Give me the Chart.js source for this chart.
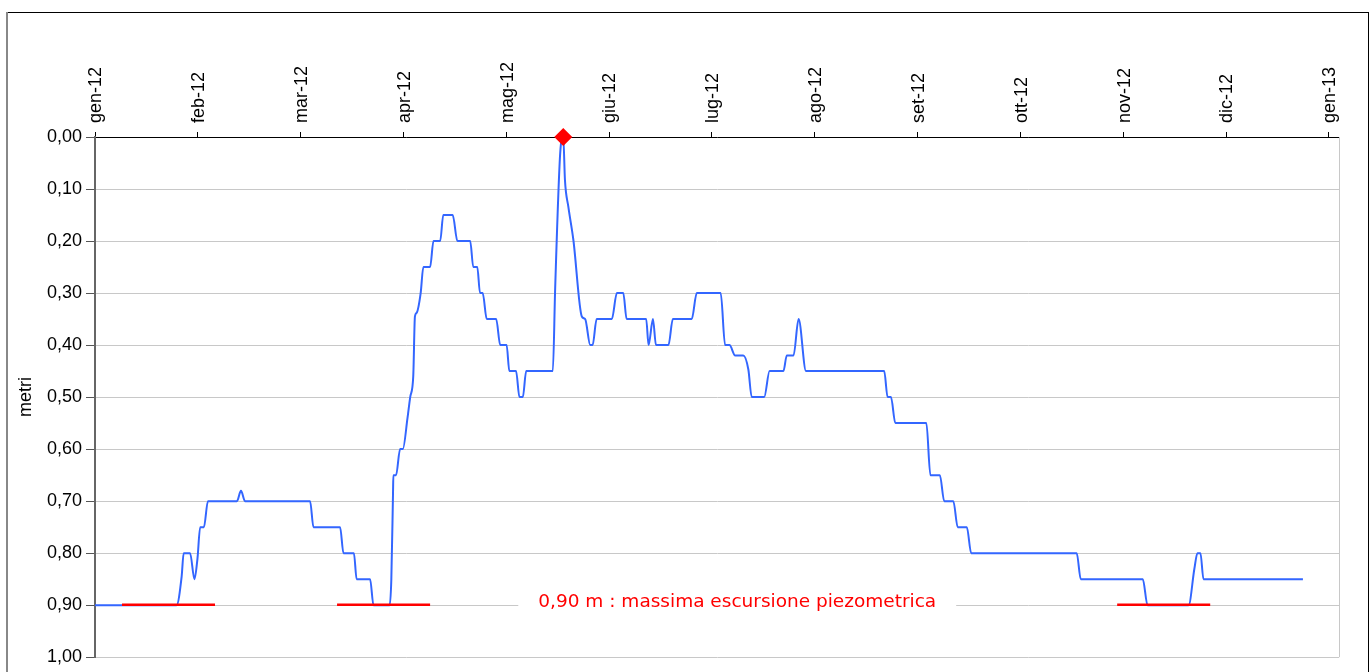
<!DOCTYPE html>
<html>
<head>
<meta charset="utf-8">
<script src="https://cdn.jsdelivr.net/npm/chart.js@4.4.0/dist/chart.umd.min.js"></script>
<style>
  body { margin: 0; background: #fff; }
  #wrap { width: 1372px; height: 672px; position: relative; }
</style>
</head>
<body>
<div id="wrap"><canvas id="levelChart"></canvas></div>
<script>
const monthLabels = ["gen-12", "feb-12", "mar-12", "apr-12", "mag-12", "giu-12", "lug-12",
  "ago-12", "set-12", "ott-12", "nov-12", "dic-12", "gen-13"];
const daysPerMonth = 30.5;

// giorni dal 1 gennaio 2012 / livello (metri)
const days = [0, 24.2, 25.7, 26.3, 28.2, 29.5, 30.4, 31.2, 32.3, 33.5, 42.1, 43.3, 44.5, 63.8,
  64.8, 72.7, 73.7, 76.8, 77.6, 81.6, 82.6, 87.4, 87.9, 88.4, 88.5, 89.3, 90.5, 91.3, 92.7,
  93.5, 94.4, 94.9, 95.4, 96.6, 97.4, 99.4, 100.4, 102.4, 103.3, 106.1, 107.5, 111.3, 112.2,
  113.4, 114.2, 115.0, 116.2, 119.0, 120.2, 122.1, 122.9, 124.9, 125.9, 126.9, 127.9, 135.8,
  136.5, 138.0, 138.9, 139.4, 140.4, 141.9, 144.4, 145.4, 146.9, 147.6, 148.8, 153.3, 154.8,
  156.7, 157.7, 163.5, 164.2, 165.5, 166.4, 170.1, 171.4, 177.0, 178.5, 185.6, 186.9, 188.2,
  189.9, 192.3, 193.8, 194.8, 198.5, 200.1, 204.2, 205.2, 207.2, 208.7, 210.9, 234.1, 235.1,
  236.1, 237.4, 246.6, 247.8, 250.6, 251.9, 254.6, 255.9, 258.6, 259.9, 291.2, 292.4, 310.8,
  312.2, 324.4, 326.1, 327.0, 327.9, 328.8, 358.3];
const levels = [0.90, 0.90, 0.845, 0.80, 0.80, 0.85, 0.81, 0.75, 0.75, 0.70, 0.70, 0.68, 0.70, 0.70,
  0.75, 0.75, 0.80, 0.80, 0.85, 0.85, 0.90, 0.90, 0.85, 0.684, 0.65, 0.65, 0.60, 0.60, 0.54,
  0.50, 0.46, 0.345, 0.338, 0.30, 0.25, 0.25, 0.20, 0.20, 0.15, 0.15, 0.20, 0.20, 0.25,
  0.25, 0.30, 0.30, 0.35, 0.35, 0.40, 0.40, 0.45, 0.45, 0.50, 0.50, 0.45, 0.45,
  0.29, 0.03, 0.00, 0.083, 0.134, 0.198, 0.345, 0.35, 0.40, 0.40, 0.35, 0.35, 0.30,
  0.30, 0.35, 0.35, 0.40, 0.35, 0.40, 0.40, 0.35, 0.35, 0.30, 0.30, 0.40, 0.40,
  0.42, 0.42, 0.447, 0.50, 0.50, 0.45, 0.45, 0.42, 0.42, 0.35, 0.45, 0.45, 0.50,
  0.50, 0.55, 0.55, 0.65, 0.65, 0.70, 0.70, 0.75, 0.75, 0.80, 0.80, 0.85, 0.85,
  0.90, 0.90, 0.83, 0.80, 0.80, 0.85, 0.85];

// tratti rossi a 0,90 m
const lowSegments = [[8.0, 35.6], [71.8, 99.4], [303.2, 330.8]];
const lowLevel = 0.899;

const peakDay = 138.9;
const peakLevel = 0.0;

const noteText = "0,90 m : massima escursione piezometrica";
const noteDay = 190.5;
const noteLevel = 0.9;

const font = "'Liberation Sans', Arial, sans-serif";

const lowData = [];
lowSegments.forEach(function (s) {
  lowData.push({ x: s[0], y: lowLevel }, { x: s[1], y: lowLevel }, { x: s[1], y: null });
});

const decorPlugin = {
  id: "decor",
  beforeDatasetsDraw(chart) {
    const ctx = chart.ctx, a = chart.chartArea;
    ctx.save();
    ctx.strokeStyle = "#c8c8c8";
    ctx.lineWidth = 1;
    ctx.beginPath();
    ctx.moveTo(a.right + 0.5, a.top);
    ctx.lineTo(a.right + 0.5, a.bottom);
    ctx.stroke();
    ctx.restore();
  },
  afterDatasetsDraw(chart) {
    const ctx = chart.ctx;
    const px = chart.scales.x.getPixelForValue(noteDay);
    const py = chart.scales.y.getPixelForValue(noteLevel) - 3;
    ctx.save();
    ctx.font = "18.5px 'DejaVu Sans', Verdana, sans-serif";
    const w = ctx.measureText(noteText).width + 40;
    ctx.fillStyle = "#fff";
    ctx.fillRect(px - w / 2, py - 12, w, 24);
    ctx.fillStyle = "#ff0000";
    ctx.textAlign = "center";
    ctx.textBaseline = "middle";
    ctx.fillText(noteText, px, py);
    ctx.restore();
  },
  afterDraw(chart) {
    const ctx = chart.ctx;
    ctx.save();
    ctx.strokeStyle = "#000";
    ctx.lineWidth = 1;
    ctx.strokeRect(7.5, 12.5, 1361, 700);
    ctx.fillStyle = "#888";
    ctx.fillRect(6, 12, 2, 660);
    ctx.restore();
  }
};

new Chart(document.getElementById("levelChart"), {
  type: "line",
  data: {
    datasets: [
      {
        data: [{ x: peakDay, y: peakLevel }],
        showLine: false,
        pointStyle: "rectRot",
        pointRadius: 9,
        backgroundColor: "#ff0000",
        borderColor: "#ff0000",
        borderWidth: 0,
        clip: false,
        order: 0,
      },
      {
        data: lowData,
        borderColor: "#ff0000",
        borderWidth: 2.5,
        pointRadius: 0,
        spanGaps: false,
        order: 1,
      },
      {
        data: days.map((d, i) => ({ x: d, y: levels[i] })),
        borderColor: "#3366ff",
        borderWidth: 2,
        pointRadius: 0,
        cubicInterpolationMode: "monotone",
        order: 2,
      },
    ],
  },
  options: {
    responsive: true,
    maintainAspectRatio: false,
    animation: false,
    layout: { padding: { left: 0, top: 0, right: 33, bottom: 14 } },
    plugins: { legend: { display: false }, tooltip: { enabled: false } },
    scales: {
      x: {
        type: "linear",
        position: "top",
        min: 0,
        max: 369,
        afterBuildTicks(scale) {
          scale.ticks = monthLabels.map((_, i) => ({ value: i * daysPerMonth }));
        },
        afterFit(scale) { scale.height = 137; },
        ticks: {
          autoSkip: false,
          minRotation: 90,
          maxRotation: 90,
          padding: 9,
          labelOffset: 23,
          color: "#000",
          font: { family: font, size: 18 },
          callback: (v, i) => monthLabels[i],
        },
        grid: { drawOnChartArea: false, tickLength: 5, tickColor: "#000" },
        border: { color: "#000", width: 1 },
      },
      y: {
        reverse: true,
        min: 0,
        max: 1,
        afterFit(scale) { scale.width = 95; },
        ticks: {
          stepSize: 0.1,
          padding: 4,
          color: "#000",
          font: { family: font, size: 18 },
          callback: (v) => v.toFixed(2).replace(".", ","),
        },
        grid: { color: "#c8c8c8", tickColor: "#555", tickLength: 9 },
        border: { color: "#666", width: 2 },
        title: {
          display: true,
          text: "metri",
          color: "#000",
          font: { family: font, size: 18 },
          padding: { top: 15, bottom: 0 },
        },
      },
    },
  },
  plugins: [decorPlugin],
});
</script>
</body>
</html>
